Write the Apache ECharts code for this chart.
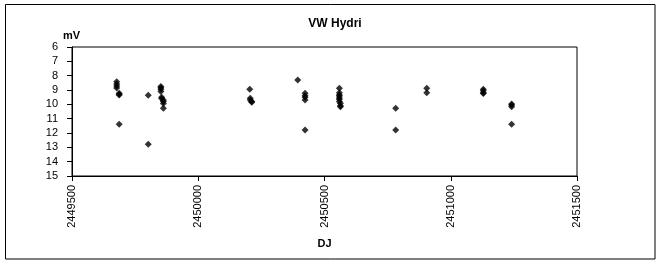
<!DOCTYPE html>
<html><head><meta charset="utf-8">
<script src="https://cdn.jsdelivr.net/npm/echarts@6/dist/echarts.min.js"></script>
<style>html,body{margin:0;padding:0;background:#fff}#c{width:661px;height:269px}</style>
</head><body><div id="c"></div>
<script>
var titleText = 'VW Hydri';
var xName = 'DJ';
var yName = 'mV';
var xTicks = [2449500, 2450000, 2450500, 2451000, 2451500];
var yTicks = [6, 7, 8, 9, 10, 11, 12, 13, 14, 15];
var jd = [
  2449677, 2449677, 2449677, 2449677,
  2449687, 2449687, 2449687, 2449687,
  2449802, 2449802,
  2449852, 2449852, 2449852, 2449852,
  2449855, 2449855,
  2449862, 2449862, 2449862, 2449862,
  2450204, 2450206, 2450206, 2450212, 2450212,
  2450394,
  2450423, 2450423, 2450423, 2450423, 2450423,
  2450559, 2450559, 2450559, 2450559, 2450559, 2450559, 2450559,
  2450563, 2450563, 2450563,
  2450782, 2450782,
  2450905, 2450905,
  2451129, 2451129, 2451129, 2451129,
  2451241, 2451241, 2451241, 2451241
];
var mag = [
  8.42, 8.58, 8.72, 8.86,
  9.23, 9.35, 9.30, 11.39,
  9.37, 12.79,
  8.75, 8.85, 8.95, 9.10,
  9.50, 9.60,
  9.70, 9.80, 9.95, 10.28,
  8.95, 9.58, 9.70, 9.80, 9.85,
  8.30,
  9.23, 9.40, 9.50, 9.70, 11.79,
  8.88, 9.19, 9.35, 9.42, 9.55, 9.65, 9.80,
  9.93, 10.10, 10.16,
  10.28, 11.79,
  8.88, 9.19,
  8.95, 9.05, 9.20, 9.25,
  9.98, 10.05, 10.16, 11.39
];
var pts = jd.map(function (d, i) { return [d, mag[i]]; });
var ff = 'Arial, "Liberation Sans", sans-serif';
var chart = echarts.init(document.getElementById('c'), null, {renderer: 'canvas'});
chart.setOption({
  animation: false,
  backgroundColor: '#fff',
  title: {
    text: titleText, left: 330, top: 13, textAlign: 'center',
    textStyle: {fontFamily: ff, fontSize: 12, fontWeight: 'bold', color: '#000'}
  },
  grid: {left: 72, top: 47, right: 84, bottom: 93, show: true, borderColor: '#000', borderWidth: 1, backgroundColor: '#fff'},
  xAxis: {
    type: 'value', min: xTicks[0], max: xTicks[xTicks.length - 1], interval: 500,
    name: xName, nameLocation: 'middle', nameGap: 62,
    nameTextStyle: {fontFamily: ff, fontSize: 11, fontWeight: 'bold', color: '#000'},
    axisLine: {show: true, lineStyle: {color: '#000', width: 1}},
    axisTick: {show: true, inside: false, length: 5, lineStyle: {color: '#000'}},
    splitLine: {show: false},
    axisLabel: {rotate: 90, margin: 9, fontFamily: ff, fontSize: 11, color: '#000', formatter: function (v) { return String(v); }}
  },
  yAxis: {
    type: 'value', inverse: true, min: yTicks[0], max: yTicks[yTicks.length - 1], interval: 1,
    name: yName, nameLocation: 'start', nameGap: 3,
    nameTextStyle: {fontFamily: ff, fontSize: 11, fontWeight: 'bold', color: '#000', align: 'left', padding: [0, 0, 0, -9]},
    axisLine: {show: true, lineStyle: {color: '#000', width: 1}},
    axisTick: {show: true, inside: false, length: 5, lineStyle: {color: '#000'}},
    splitLine: {show: false},
    axisLabel: {margin: 14, fontFamily: ff, fontSize: 11, color: '#000'}
  },
  series: [{
    type: 'scatter', data: pts, symbol: 'diamond', symbolSize: 7,
    itemStyle: {color: '#000'}
  }],
  graphic: [{
    type: 'rect', silent: true, z: 100,
    shape: {x: 5.5, y: 4.5, width: 649.5, height: 254.5},
    style: {fill: 'none', stroke: '#000', lineWidth: 1}
  }]
});
</script></body></html>
